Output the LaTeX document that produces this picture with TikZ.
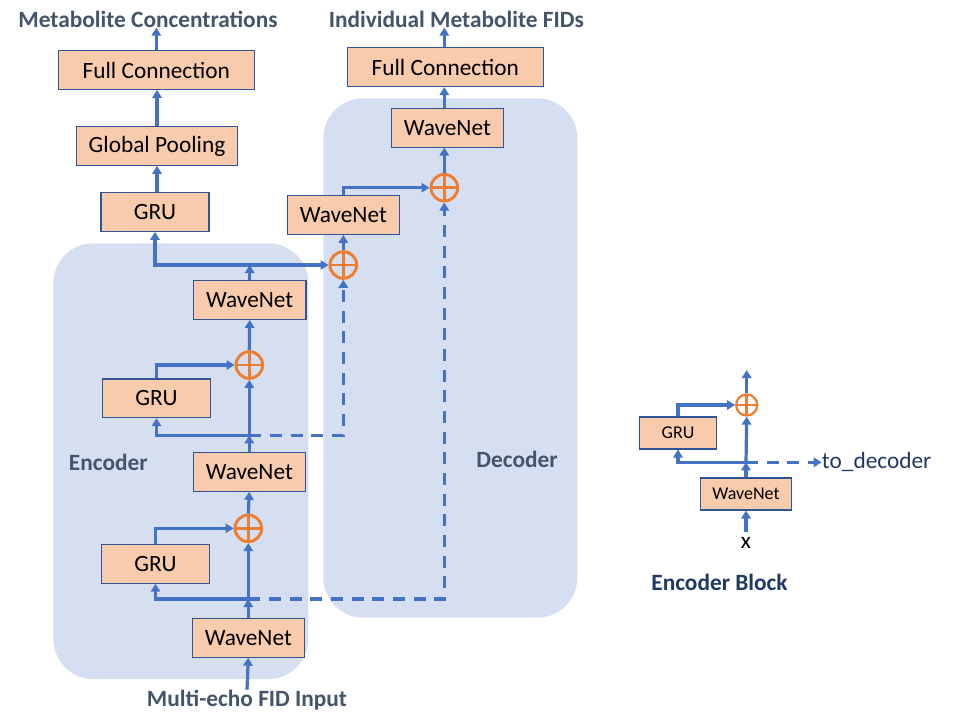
\documentclass[tikz,border=0pt]{standalone}
\usepackage{fontspec}
\setmainfont{Carlito}
\usetikzlibrary{arrows.meta}
\definecolor{linkblue}{HTML}{4472C4}
\definecolor{sumorange}{HTML}{ED7D31}
\definecolor{boxfill}{HTML}{F8CBAD}
\definecolor{boxline}{HTML}{2F5597}
\definecolor{groupbg}{HTML}{D6DFF1}
\definecolor{slate}{HTML}{44546A}
\definecolor{navy}{HTML}{203864}
\tikzset{
    blk/.style={draw=boxline, fill=boxfill, line width=0.8pt, inner sep=0pt,
        minimum height=29pt, font=\fontsize{17.5}{21}\selectfont},
    smallblk/.style={blk, minimum height=24pt, font=\fontsize{13.5}{16}\selectfont},
    adder/.style={circle, draw=sumorange, line width=2.2pt, inner sep=0pt, minimum size=20pt,
        path picture={\draw[sumorange, line width=2.2pt]
            (path picture bounding box.north) -- (path picture bounding box.south)
            (path picture bounding box.west) -- (path picture bounding box.east);}},
    smalladder/.style={adder, line width=1.7pt, minimum size=15.8pt},
    link/.style={linkblue, line width=2.4pt, -{Triangle[width=7pt,length=6pt]}},
    dlink/.style={link, dash pattern=on 9pt off 6.5pt},
    heading/.style={text=slate, font=\bfseries\fontsize{17.5}{21}\selectfont, inner sep=0pt},
}
\begin{document}
\begin{tikzpicture}[x=0.75pt, y=-0.75pt]
    \useasboundingbox (0,0) rectangle (966,719);
    \fill[groupbg, rounded corners=30pt] (53.3,243.3) rectangle (308.3,679);
    \fill[groupbg, rounded corners=30pt] (323.3,98.3) rectangle (577.3,617.7);
    \node[heading] at (108.3,462) {Encoder};
    \node[heading] at (517,459) {Decoder};

    \node[heading] (outC) at (148,19) {Metabolite Concentrations};
    \node[blk, minimum width=147pt] (fcL) at (156.3,70) {Full Connection};
    \node[blk, minimum width=120.5pt] (gpool) at (157,146) {Global Pooling};
    \node[blk, minimum width=81pt] (gruT) at (155,212) {GRU};

    \node[blk, minimum width=84.4pt] (wnE3) at (249.7,300) {WaveNet};
    \node[adder] (addE2) at (249.3,365) {};
    \node[blk, minimum width=81pt] (gruE2) at (156.5,398.3) {GRU};
    \node[blk, minimum width=84.4pt] (wnE2) at (249.3,472) {WaveNet};
    \node[adder] (addE1) at (248.3,528.3) {};
    \node[blk, minimum width=81pt] (gruE1) at (155.5,563.8) {GRU};
    \node[blk, minimum width=84.4pt] (wnE1) at (248.3,637.8) {WaveNet};
    \node[heading] (inp) at (247,700) {Multi-echo FID Input};
    \coordinate (jE3) at (249.7,265);
    \coordinate (jE2) at (249.3,435.3);
    \coordinate (jE1) at (248.3,599);

    \node[adder] (addD1) at (343.3,265) {};
    \node[blk, minimum width=84.4pt] (wnD1) at (343.3,215) {WaveNet};
    \node[adder] (addD2) at (444.3,187.7) {};
    \node[blk, minimum width=84.4pt] (wnD2) at (447.3,127.7) {WaveNet};
    \node[blk, minimum width=147pt] (fcR) at (445.3,67.2) {Full Connection};
    \node[heading] (outF) at (456.3,19) {Individual Metabolite FIDs};

    \draw[link] (inp.north) -- (wnE1.south);
    \draw[link] (wnE1.north) -- (jE1);
    \draw[link] (jE1) -| (gruE1.south);
    \draw[link] (jE1) -- (addE1.south);
    \draw[dlink] (jE1) -| (addD2.south);
    \draw[link] (gruE1.north) |- (addE1.west);
    \draw[link] (addE1.north) -- (wnE2.south);
    \draw[link] (wnE2.north) -- (jE2);
    \draw[link] (jE2) -| (gruE2.south);
    \draw[link] (jE2) -- (addE2.south);
    \draw[dlink] (jE2) -| (addD1.south);
    \draw[link] (gruE2.north) |- (addE2.west);
    \draw[link] (addE2.north) -- (wnE3.south);
    \draw[link] (wnE3.north) -- (jE3);
    \draw[link] (jE3) -| (gruT.south);
    \draw[link] (jE3) -- (addD1.west);
    \draw[link] (gpool.south |- gruT.north) -- (gpool.south);
    \draw[link] (gpool.north) -- (gpool.north |- fcL.south);
    \draw[link] (fcL.north) -- (fcL.north |- outC.south);
    \draw[link] (addD1.north) -- (wnD1.south);
    \draw[link] (wnD1.north) |- (addD2.west);
    \draw[link] (addD2.north) -- (addD2.north |- wnD2.south);
    \draw[link] (addD2.north |- wnD2.north) -- (addD2.north |- fcR.south);
    \draw[link] (addD2.north |- fcR.north) -- (addD2.north |- outF.south);

    \node[smallblk, minimum width=68.8pt] (wnB) at (746,494) {WaveNet};
    \node[smallblk, minimum width=58pt] (gruB) at (678,433) {GRU};
    \node[smalladder] (addB) at (746.7,405) {};
    \node[font=\fontsize{17.5}{21}\selectfont, inner sep=4pt] (xin) at (746,543.3) {x};
    \node[anchor=west, text=navy, font=\fontsize{17.5}{21}\selectfont, inner sep=0pt] (toD) at (821.7,462.3) {to\_decoder};
    \node[heading, text=navy] (blockT) at (719.5,582.7) {Encoder Block};
    \coordinate (jB) at (746,462.3);
    \coordinate (outB) at (746.7,370);

    \draw[link] (xin.north) -- (wnB.south);
    \draw[link] (wnB.north) -- (jB);
    \draw[link] (jB) -| (gruB.south);
    \draw[link] (jB) -- (addB.south);
    \draw[dlink] (jB) -- (toD.west);
    \draw[link] (gruB.north) |- (addB.west);
    \draw[link] (addB.north) -- (outB);
\end{tikzpicture}
\end{document}
